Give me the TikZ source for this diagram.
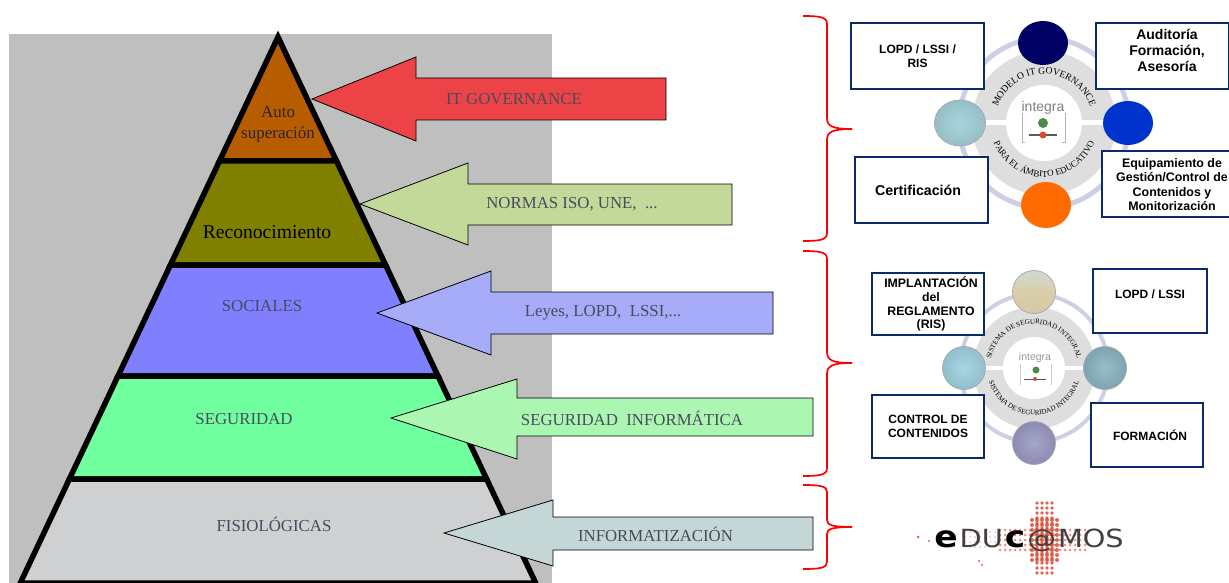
\documentclass[tikz,border=0pt]{standalone}
\usepackage{fontspec}
\setmainfont{Liberation Serif}
\setsansfont{Liberation Sans}
\newfontfamily\logofont[FakeStretch=1.15]{DejaVu Sans}
\usetikzlibrary{decorations.text}
\definecolor{navybox}{HTML}{0A2A6A}
\definecolor{labelgray}{HTML}{4A4A5E}
\definecolor{ringblue}{HTML}{CDD0E4}
\definecolor{diskgray}{HTML}{DEDEDE}
\definecolor{dotred}{HTML}{DC4A32}

\begin{document}
\begin{tikzpicture}[%
            x=1pt,
            y=-1pt,
            line join=miter,
            ]
    \tikzset{layer/.style = {draw=black, line width=5.5pt, miter limit=3}}
    \tikzset{levellabel/.style = {font=\fontsize{16.8}{20}\selectfont, align=center, color=labelgray}}
    \tikzset{arrowshape/.style = {draw=black, line width=0.8pt}}
    \tikzset{infobox/.style = {draw=navybox, line width=2.4pt, fill=white, inner sep=0pt, align=center, font=\sffamily\bfseries\fontsize{12}{13.8}\selectfont}}
    \tikzset{brace/.style = {draw=red, line width=1.7pt}}
    \tikzset{ball/.style = {draw=gray!70, line width=0.7pt}}
    \tikzset{dot/.style = {fill=dotred, opacity=0.85}}
    \useasboundingbox (0,0) rectangle (1229,583);

    % Background
    \fill[gray!50] (9,34) rectangle (552,583);

    % Pyramid
    \draw[layer, fill={rgb,255:red,184;green,92;blue,0}] (278,37) -- (336.5,161) -- (219.5,161) -- cycle;
    \draw[layer, fill={rgb,255:red,128;green,128;blue,0}] (219.5,161) -- (336.5,161) -- (385.6,265) -- (170.4,265) -- cycle;
    \draw[layer, fill={rgb,255:red,128;green,128;blue,255}] (170.4,265) -- (385.6,265) -- (438,376) -- (118,376) -- cycle;
    \draw[layer, fill={rgb,255:red,111;green,255;blue,159}] (118,376) -- (438,376) -- (486.6,479) -- (69.4,479) -- cycle;
    \draw[layer, fill={rgb,255:red,207;green,208;blue,210}] (69.4,479) -- (486.6,479) -- (535.7,583) -- (20.3,583) -- cycle;

    \node[levellabel, color=black!85, font=\fontsize{17}{20.5}\selectfont] (auto) at (278,124) {Auto\\superación};
    \node[levellabel, color=black, font=\fontsize{19.6}{22}\selectfont] (reconocimiento) at (267,232) {Reconocimiento};
    \node[levellabel] (sociales) at (262,306) {SOCIALES};
    \node[levellabel] (seguridad) at (244,419) {SEGURIDAD};
    \node[levellabel] (fisiologicas) at (274,524) {FISIOLÓGICAS};

    % Arrows
    \draw[arrowshape, fill={rgb,255:red,236;green,68;blue,70}] (312,99) -- (416,57) -- (416,78) -- (666,78) -- (666,120) -- (416,120) -- (416,141) -- cycle;
    \draw[arrowshape, fill={rgb,255:red,194;green,217;blue,153}] (360,204) -- (468,163) -- (468,184) -- (732,184) -- (732,225) -- (468,225) -- (468,245) -- cycle;
    \draw[arrowshape, fill={rgb,255:red,166;green,172;blue,248}] (377,313) -- (491,271) -- (491,292) -- (773,292) -- (773,334) -- (491,334) -- (491,355) -- cycle;
    \draw[arrowshape, fill={rgb,255:red,171;green,247;blue,178}] (391,418) -- (517,379) -- (517,398) -- (813,398) -- (813,436) -- (517,436) -- (517,459) -- cycle;
    \draw[arrowshape, fill={rgb,255:red,196;green,215;blue,214}] (444,533) -- (553,500) -- (553,517) -- (813,517) -- (813,550) -- (553,550) -- (553,566) -- cycle;

    \node[levellabel] (itgov) at (514,99) {IT GOVERNANCE};
    \node[levellabel] (normas) at (572,204) {NORMAS ISO, UNE,\ \ ...};
    \node[levellabel] (leyes) at (603,313) {Leyes, LOPD,\ \ LSSI,...};
    \node[levellabel] (seginf) at (632,418) {SEGURIDAD\ \ INFORMÁTICA};
    \node[levellabel] (informatizacion) at (655.5,534) {INFORMATIZACIÓN};

    % Braces
    \draw[brace] (803,16) .. controls (820,16) and (827,17) .. (827,24) -- (827,118) .. controls (827,126) and (832,129) .. (852,129);
    \draw[brace] (803,241) .. controls (820,241) and (827,240) .. (827,233) -- (827,140) .. controls (827,132) and (832,129) .. (852,129);
    \draw[brace] (803,251) .. controls (820,251) and (827,252) .. (827,259) -- (827,352) .. controls (827,360) and (832,363) .. (852,363);
    \draw[brace] (803,476) .. controls (820,476) and (827,475) .. (827,468) -- (827,374) .. controls (827,366) and (832,363) .. (852,363);
    \draw[brace] (803,485) .. controls (820,485) and (827,486) .. (827,492) -- (827,520) .. controls (827,525) and (832,527) .. (852,527);
    \draw[brace] (803,569) .. controls (820,569) and (827,568) .. (827,562) -- (827,534) .. controls (827,529) and (832,527) .. (852,527);

    % Upper wheel
    \draw[ringblue, line width=5pt] (1044,123) circle [radius=85];
    \fill[diskgray] (1044,123) circle [radius=72];
    \fill[white] (960,120.5) rectangle (1128,125.5);
    \fill[white] (1044,123) circle [radius=38];
    \path[decorate, decoration={text along path, text align=center, text={|\fontsize{9.6}{10}\selectfont|MODELO IT GOVERNANCE}}] (1044,123) ++(185:49) arc [start angle=185, end angle=355, radius=49];
    \path[decorate, decoration={text along path, text align=center, text={|\fontsize{9}{10}\selectfont|PARA EL ÁMBITO EDUCATIVO}}] (1044,123) ++(170:54) arc [start angle=170, end angle=10, radius=54];

    % Upper logo
    \node[text=gray, font=\sffamily\fontsize{14}{14}\selectfont, inner sep=0pt] (integra) at (1043,108) {integra};
    \draw[gray!60, line width=0.6pt] (1022,113) -- (1022,142) -- (1025,142);
    \draw[gray!60, line width=0.6pt] (1065,113) -- (1065,142) -- (1062,142);
    \fill[green!35!black!70] (1043,123) circle [radius=5];
    \fill[gray!70!black] (1029,134.5) rectangle (1057,136.5);
    \fill[dotred] (1043,135) circle [radius=3.5];

    \node[infobox, minimum width=133pt, minimum height=66pt, font=\sffamily\bfseries\fontsize{12}{14}\selectfont] (lopdrisbox) at (917.5,56) {LOPD / LSSI /\\RIS};
    \node[infobox, minimum width=133pt, minimum height=66pt, font=\sffamily\bfseries\fontsize{14}{16}\selectfont] (auditoriabox) at (1162.5,56) {\hspace*{9pt}Auditoría\\\hspace*{9pt}Formación,\\\hspace*{9pt}Asesoría\\[-4pt]\mbox{}};
    \node[infobox, minimum width=133pt, minimum height=66pt, font=\sffamily\bfseries\fontsize{14.2}{16}\selectfont] (certificacionbox) at (921.5,190) {\hspace*{-7pt}Certificación};
    \node[infobox, minimum width=130pt, minimum height=66pt, font=\sffamily\bfseries\fontsize{12.4}{14.1}\selectfont] (equipobox) at (1167,184) {\mbox{}\\[-4pt]\hspace*{10pt}Equipamiento de\\\hspace*{10pt}Gestión/Control de\\\hspace*{10pt}Contenidos y\\\hspace*{10pt}Monitorización};

    \shadedraw[ball, draw=none, inner color=blue!40!black, outer color={rgb,255:red,0;green,0;blue,100}] (1043,43) circle [x radius=25, y radius=22];
    \shadedraw[ball, inner color={rgb,255:red,170;green,212;blue,220}, outer color={rgb,255:red,150;green,190;blue,198}] (960,123) circle [x radius=25.5, y radius=23];
    \fill[fill={rgb,255:red,255;green,107;blue,0}] (1046,205) circle [x radius=25, y radius=23];
    \fill[fill={rgb,255:red,0;green,51;blue,204}] (1128,123) circle [x radius=25, y radius=22];

    % Lower wheel
    \draw[ringblue, line width=4pt] (1034,368) circle [radius=74];
    \fill[diskgray] (1034,368) circle [radius=61];
    \fill[white] (964,366) rectangle (1105,370);
    \fill[white] (1034,368) circle [radius=31];
    \path[decorate, decoration={text along path, text align=center, text={|\fontsize{7}{8}\selectfont|SISTEMA DE SEGURIDAD INTEGRAL}}] (1034,368) ++(180:44) arc [start angle=180, end angle=360, radius=44];
    \path[decorate, decoration={text along path, text align=center, text={|\fontsize{7}{8}\selectfont|SISTEMA DE SEGURIDAD INTEGRAL}}] (1034,368) ++(175:47) arc [start angle=175, end angle=5, radius=47];

    % Lower logo
    \node[text=gray!80, font=\sffamily\fontsize{10.5}{10.5}\selectfont, inner sep=0pt] (integralow) at (1035,358) {integra};
    \draw[gray!40, line width=0.6pt] (1020,364) -- (1020,385);
    \draw[gray!40, line width=0.6pt] (1051,364) -- (1051,385);
    \fill[green!35!black!70] (1036,370) circle [radius=3.5];
    \fill[gray!70!black] (1024,378.5) rectangle (1046,379.5);
    \fill[dotred] (1035,379) circle [radius=2];

    \node[infobox, minimum width=112pt, minimum height=62pt, font=\sffamily\bfseries\fontsize{12.3}{13.8}\selectfont] (ribox) at (928,304) {\hspace*{6pt}IMPLANTACIÓN\\\hspace*{6pt}del\\\hspace*{6pt}REGLAMENTO\\\hspace*{6pt}(RIS)};
    \node[infobox, minimum width=114pt, minimum height=64pt] (lopdbox) at (1150,301) {LOPD / LSSI\\ \mbox{}};
    \node[infobox, minimum width=112pt, minimum height=63pt] (controlbox) at (928,426.5) {CONTROL DE\\CONTENIDOS};
    \node[infobox, minimum width=112pt, minimum height=64pt] (formacionbox) at (1147,435) {\hspace*{6pt}FORMACIÓN};

    \shadedraw[ball, top color={rgb,255:red,205;green,218;blue,210}, bottom color={rgb,255:red,212;green,200;blue,165}, middle color={rgb,255:red,218;green,205;blue,170}] (1034,292) circle [radius=21.5];
    \shadedraw[ball, inner color={rgb,255:red,170;green,214;blue,224}, outer color={rgb,255:red,145;green,190;blue,205}] (964,368) circle [radius=21.5];
    \shadedraw[ball, inner color={rgb,255:red,150;green,190;blue,198}, outer color={rgb,255:red,125;green,165;blue,175}] (1105,368) circle [radius=21.5];
    \shadedraw[ball, inner color={rgb,255:red,165;green,165;blue,200}, outer color={rgb,255:red,140;green,140;blue,180}] (1034,443) circle [radius=21.5];

    % Educamos logo
    \foreach \i in {0,...,3} {
        \foreach \j in {0,...,14} {
            \fill[dot] (1037+\i*5,503+\j*5) circle [radius=1.8];
        }
    }
    \foreach \i in {0,...,5} {
        \foreach \j in {0,...,8} {
            \fill[dot] (1032+\i*5,520+\j*5) circle [radius=2];
        }
    }
    \foreach \i in {0,...,17} {
        \foreach \j in {0,...,4} {
            \fill[dot, opacity=0.6] (1000+\i*5,530+\j*5) circle [radius=1.5];
        }
    }
    \foreach \i in {0,...,6} {
        \foreach \j in {0,...,3} {
            \fill[dot, opacity=0.35] (965+\i*5,532+\j*5) circle [radius=1];
        }
    }
    \fill[dot] (918,537) circle [radius=1.5];
    \fill[dot] (929,541) circle [radius=1.2];
    \fill[dot] (979,561) circle [radius=1.2];
    \fill[dot] (982,565) circle [radius=1.2];
    \node[inner sep=0pt, text=black!75, font=\logofont\fontsize{25}{25}\selectfont] (educamos) at (1029,540) {\textcolor{black}{\fontsize{30}{30}\selectfont\bfseries e}\hspace{2pt}DU\hspace{2pt}\textcolor{black}{\fontsize{30}{30}\selectfont\bfseries c}\hspace{2pt}@\hspace{2pt}MOS};

\end{tikzpicture}
\end{document}
